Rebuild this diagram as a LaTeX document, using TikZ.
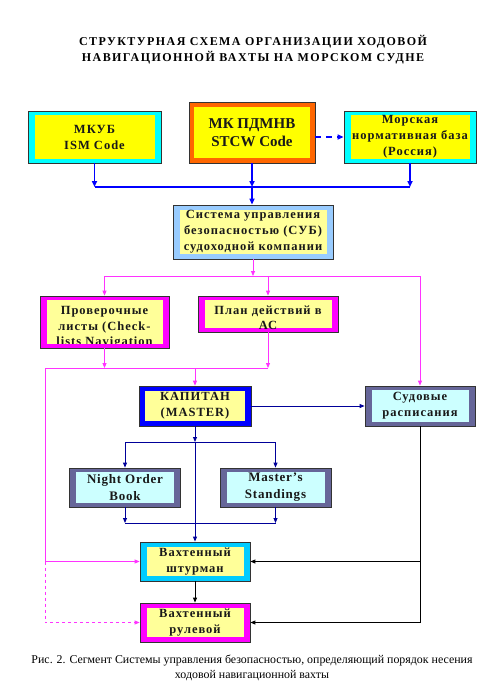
\documentclass[tikz,border=0pt]{standalone}
\usepackage{fontspec}
\setmainfont{Liberation Serif}
\usetikzlibrary{arrows.meta,calc}
\definecolor{cyanbx}{HTML}{00FFFF}
\definecolor{yelbx}{HTML}{FFFF00}
\definecolor{palebx}{HTML}{FFFF99}
\definecolor{orangebx}{HTML}{FF6600}
\definecolor{skybx}{HTML}{99CCFF}
\definecolor{magbx}{HTML}{FF00FF}
\definecolor{bluebx}{HTML}{0000FF}
\definecolor{slatebx}{HTML}{666699}
\definecolor{icebx}{HTML}{CCFFFF}
\definecolor{deepsky}{HTML}{00CCFF}
\definecolor{navyln}{HTML}{000099}
\definecolor{pinkln}{HTML}{FF33FF}
\tikzset{blk/.style n args={4}{draw=black!80,line width=0.8pt,fill=#1,inner sep=1pt,align=center,
  text=black!90,font=\bfseries\fontsize{12.5}{16}\selectfont\addfontfeature{LetterSpace=8},
  path picture={\fill[#2] ([shift={(#3,-#4)}]path picture bounding box.north west)
    rectangle ([shift={(-#3,#4)}]path picture bounding box.south east);}},
  blktxt/.style={align=center,inner sep=0pt,text=black!90,
    font=\bfseries\fontsize{12.5}{15.5}\selectfont\addfontfeature{LetterSpace=8}},
  barrow/.style={-{Triangle[length=6pt,width=5pt]},line width=1.8pt,draw=bluebx},
  parrow/.style={-{Triangle[length=5pt,width=4pt]},line width=0.8pt,draw=pinkln},
  narrow/.style={-{Triangle[length=5pt,width=4pt]},line width=0.9pt,draw=navyln},
  karrow/.style={-{Triangle[length=5pt,width=4pt]},line width=0.9pt,draw=black}}
\begin{document}
\begin{tikzpicture}[x=1pt,y=-1pt]
\useasboundingbox[fill=white] (0,0) rectangle (493,686);
\node[font=\bfseries\fontsize{12}{16}\selectfont\addfontfeature{LetterSpace=12},align=center] (title) at (253,50)
  {СТРУКТУРНАЯ СХЕМА ОРГАНИЗАЦИИ ХОДОВОЙ\\НАВИГАЦИОННОЙ ВАХТЫ НА МОРСКОМ СУДНЕ};
\node[blk={cyanbx}{yelbx}{6.5pt}{4pt},minimum width=133pt,minimum height=52pt] (mkub) at (94.5,137) {МКУБ\\ISM Code};
\node[blk={orangebx}{yelbx}{5pt}{5pt},minimum width=126pt,minimum height=61pt,
  font=\bfseries\fontsize{15}{18}\selectfont] (stcw) at (252,132.5) {МК ПДМНВ\\STCW Code};
\node[blk={cyanbx}{yelbx}{6.5pt}{4pt},minimum width=132pt,minimum height=52pt] (rus) at (410,137)
  {Морская\\нормативная база\\(Россия)};
\node[blk={skybx}{palebx}{6.5pt}{5pt},minimum width=160pt,minimum height=54pt] (sms) at (253,232)
  {Система управления\\безопасностью (СУБ)\\судоходной компании};
\node[blk={magbx}{palebx}{6.5pt}{4pt},minimum width=129pt,minimum height=52pt] (check) at (104.5,322) {};
\begin{scope}
\clip (47,300) rectangle (162,343);
\node[blktxt] (checktxt) at (104.5,327.5) {Проверочные\\листы (Check-\\lists Navigation};
\end{scope}
\node[blk={magbx}{palebx}{6.5pt}{4pt},minimum width=140pt,minimum height=36pt] (plan) at (268,314) {};
\node[blktxt] (plantxt) at (268,318) {План действий в\\АС};
\node[blk={bluebx}{palebx}{6pt}{5pt},minimum width=112pt,minimum height=40pt] (master) at (195,406) {КАПИТАН\\(MASTER)};
\node[blk={slatebx}{icebx}{6.5pt}{4pt},minimum width=110pt,minimum height=40pt] (sched) at (420,406) {Судовые\\расписания};
\node[blk={slatebx}{icebx}{6.5pt}{4pt},minimum width=111pt,minimum height=39pt,
  font=\bfseries\fontsize{13}{17}\selectfont\addfontfeature{LetterSpace=6}] (nob) at (125,487.5) {Night Order\\Book};
\node[blk={slatebx}{icebx}{6.5pt}{4pt},minimum width=111pt,minimum height=39pt,
  font=\bfseries\fontsize{13}{17}\selectfont\addfontfeature{LetterSpace=6}] (mst) at (275.5,487.5) {Master’s\\Standings};
\node[blk={deepsky}{palebx}{6.5pt}{5pt},minimum width=110pt,minimum height=39pt] (oow) at (195,561.5) {Вахтенный\\штурман};
\node[blk={magbx}{palebx}{6.5pt}{5pt},minimum width=110pt,minimum height=39pt] (helm) at (195,622.5) {Вахтенный\\рулевой};
\node[font=\fontsize{11.9}{14.5}\selectfont,align=center] (caption) at (252,668)
  {Рис. 2. Сегмент Системы управления безопасностью, определяющий порядок несения\\ходовой навигационной вахты};
\coordinate (bus1) at (252,187);
\coordinate (bus2) at (252,276);
\coordinate (bus3) at (45,368);
\coordinate (bus4) at (195,442);
\coordinate (bus5) at (195,523);
\foreach \n in {mkub,stcw,rus}{\draw[barrow] (\n.south) -- (\n.south |- bus1);}
\draw[line width=1.8pt,draw=bluebx] (mkub.south |- bus1) -- (rus.south |- bus1);
\draw[barrow] (bus1) -- (bus1 |- sms.north);
\draw[barrow,line width=1.5pt,dash pattern=on 6pt off 5pt] (stcw.east |- rus.west) -- (rus.west);
\draw[parrow] (sms.south) -- (sms.south |- bus2);
\draw[parrow] (check.north |- bus2) -- (sched.north |- bus2) -- (sched.north);
\foreach \n in {check,plan}{\draw[parrow] (\n.north |- bus2) -- (\n.north);
  \draw[parrow] (\n.south) -- (\n.south |- bus3);}
\draw[parrow,-] (bus3) -- (plan.south |- bus3);
\draw[parrow] (master.north |- bus3) -- (master.north);
\draw[parrow] (bus3) |- (oow.west);
\draw[parrow,dashed] (bus3 |- oow.west) |- (helm.west);
\draw[narrow] (master.east) -- (sched.west);
\draw[narrow] (master.south) -- (bus4);
\draw[narrow,-] (nob.north |- bus4) -- (mst.north |- bus4);
\draw[narrow,-] (nob.south |- bus5) -- (mst.south |- bus5);
\foreach \n in {nob,mst}{\draw[narrow] (\n.north |- bus4) -- (\n.north);
  \draw[narrow] (\n.south) -- (\n.south |- bus5);}
\draw[narrow] (bus4) -- (oow.north);
\draw[karrow] (oow.south) -- (helm.north);
\draw[karrow] (sched.south) |- (oow.east);
\draw[karrow] (sched.south) |- (helm.east);
\end{tikzpicture}
\end{document}
